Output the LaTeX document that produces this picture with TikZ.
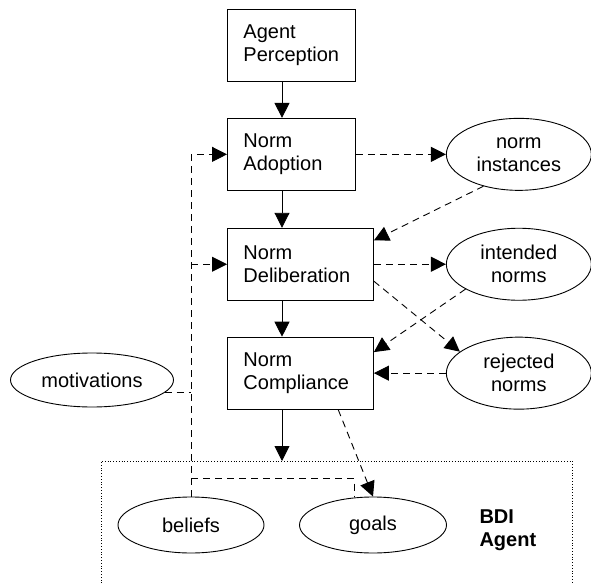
\documentclass[tikz,border=0pt]{standalone}
\usepackage{fontspec}
\setmainfont{Liberation Sans}
\usetikzlibrary{arrows.meta,positioning,shapes.geometric,calc}

\begin{document}
\begin{tikzpicture}[x=1pt,y=-1pt,node distance=36pt,font=\fontsize{20}{23}\selectfont]
    \tikzset{
      rectnode/.style={rectangle,draw=black,line width=0.9pt,inner xsep=16pt,minimum height=72pt,align=left},
      ellnode/.style={ellipse,draw=black,line width=0.9pt,inner sep=0pt,minimum width=145pt,minimum height=72pt,align=center},
      arrow/.style={-{Triangle[length=15pt,width=15pt]},line width=0.9pt},
      dasharrow/.style={arrow,dash pattern=on 7pt off 5pt},
      dashline/.style={line width=0.9pt,dash pattern=on 7pt off 5pt},
      dotbox/.style={line width=0.8pt,dotted}
    }
    \useasboundingbox (0,0) rectangle (591,583);
    \coordinate (spine) at (282,0);
    \coordinate (bdi) at (101,461);

    \node[rectnode,text width=96pt,anchor=north west](perception) at (227,9) {Agent\\Perception};
    \node[rectnode,text width=96pt,below=of perception.south west,anchor=north west](adoption){Norm\\Adoption};
    \node[rectnode,text width=114pt,below=37pt of adoption.south west,anchor=north west](deliberation){Norm\\Deliberation};
    \node[rectnode,text width=114pt,below=of deliberation.south west,anchor=north west](compliance){Norm\\Compliance};
    \node[ellnode,right=90pt of adoption](instances){norm\\instances};
    \node[ellnode,right=72pt of deliberation](intended){intended\\norms};
    \node[ellnode,right=72pt of compliance](rejected){rejected\\norms};
    \node[ellnode,minimum width=163pt,minimum height=54pt](motivations) at (92,380) {motivations};
    \node[ellnode,minimum width=146pt,minimum height=56pt](beliefs) at (191,525) {beliefs};
    \node[ellnode,minimum width=147pt,minimum height=56pt](goals) at (373,525) {goals};
    \node[font=\fontsize{20}{23}\selectfont\bfseries,align=left,anchor=west](bdilabel) at (476,530) {BDI\\Agent};

    \draw[dotbox] (101,600) |- (572,461) -- (572,600);

    \draw[arrow](perception.south -| spine) -- (adoption.north -| spine);
    \draw[arrow](adoption.south -| spine) -- (deliberation.north -| spine);
    \draw[arrow](deliberation.south -| spine) -- (compliance.north -| spine);
    \draw[arrow](compliance.south -| spine) -- (spine |- bdi);

    \draw[dasharrow](adoption.east) -- (instances.west);
    \draw[dasharrow](instances.222) -- (deliberation.18);
    \draw[dasharrow](deliberation.east) -- (intended.west);
    \draw[dasharrow](deliberation.-13) -- (rejected.160);
    \draw[dasharrow](intended.205) -- (compliance.16);
    \draw[dasharrow](rejected.west) -- (compliance.east);
    \draw[dasharrow](compliance.-44) -- (goals.north);

    \draw[dasharrow](beliefs.north) |- (adoption.west);
    \draw[dasharrow](beliefs.north |- deliberation.west) -- (deliberation.west);
    \draw[dashline](motivations.-10) -- (motivations.-10 -| beliefs.north);
    \draw[dashline]($(beliefs.north)+(0,-18)$) -| ($(goals.north)+(-19,0)$);

  \end{tikzpicture}
\end{document}
